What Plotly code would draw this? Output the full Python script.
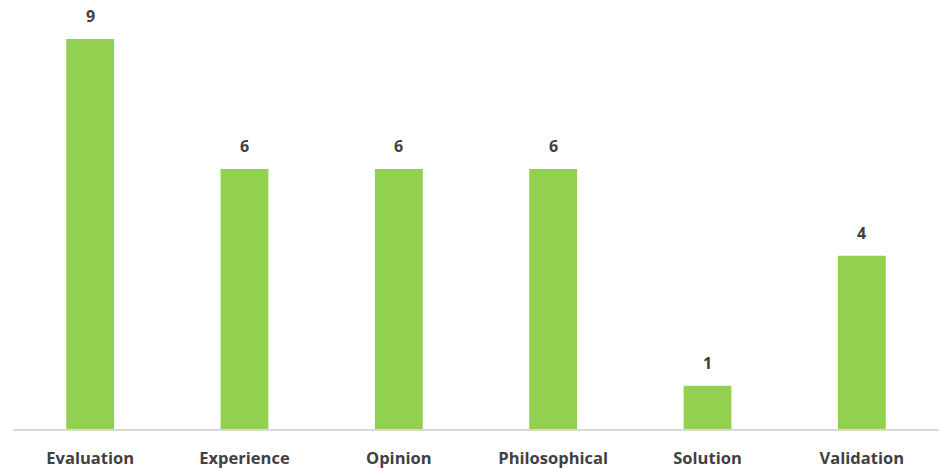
import plotly.graph_objects as go

categories = ["Evaluation", "Experience", "Opinion", "Philosophical", "Solution", "Validation"]
counts = [9, 6, 6, 6, 1, 4]

label_font = dict(family="Open Sans", size=16, color="#404040", weight="bold")

fig = go.Figure(
    go.Bar(
        x=categories,
        y=counts,
        marker=dict(color="#92d050", line=dict(width=0)),
        cliponaxis=False,
    )
)

# value labels sitting above each bar
for cat, v in zip(categories, counts):
    fig.add_annotation(
        x=cat, y=v, text=str(v), showarrow=False,
        yanchor="bottom", yshift=10, font=label_font,
    )

fig.update_layout(
    width=939,
    height=469,
    margin=dict(l=13, r=0, t=0, b=37),
    paper_bgcolor="white",
    plot_bgcolor="white",
    bargap=0.69,
    showlegend=False,
    xaxis=dict(
        showline=True,
        linecolor="#d9d9d9",
        linewidth=1.5,
        ticks="",
        showgrid=False,
        tickfont=dict(family="Open Sans", size=16.5, color="#404040", weight="bold"),
        ticklabelstandoff=13,
    ),
    yaxis=dict(
        range=[0, 9.9],
        visible=False,
        showgrid=False,
    ),
)

fig.write_html("out.html")
